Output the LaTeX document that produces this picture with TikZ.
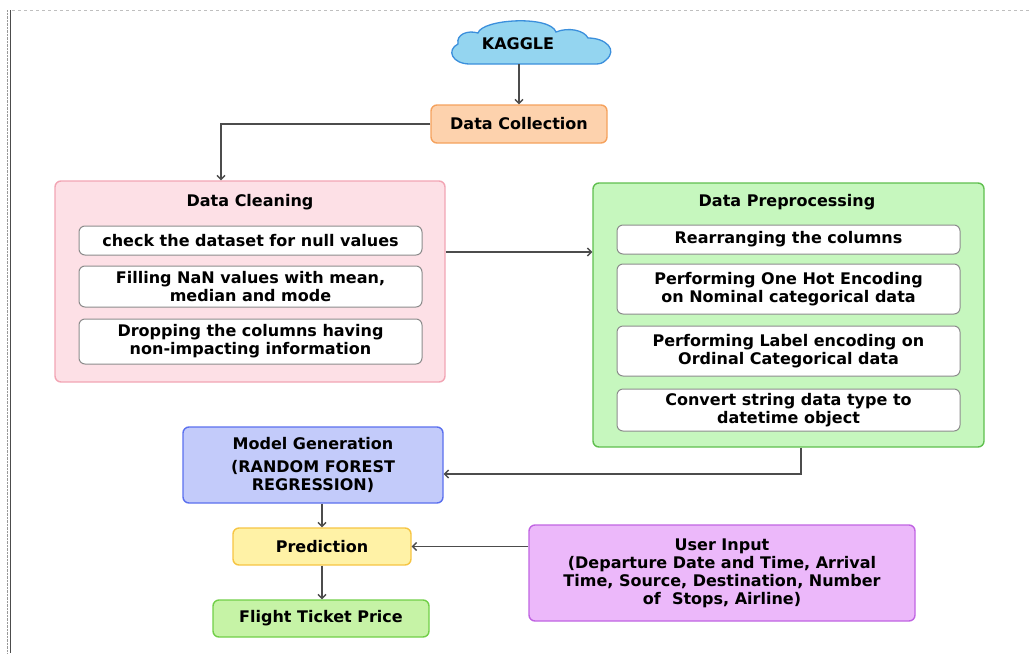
\documentclass[tikz,border=0pt]{standalone}
\usepackage{fontspec}
\setmainfont{DejaVu Sans}
\usetikzlibrary{arrows.meta,positioning}

\definecolor{cloudfill}{HTML}{94D5F0}
\definecolor{cloudline}{HTML}{3B8FDC}
\definecolor{collfill}{HTML}{FDD2AD}
\definecolor{collline}{HTML}{F5A25D}
\definecolor{cleanfill}{HTML}{FDE0E6}
\definecolor{cleanline}{HTML}{F2A5B4}
\definecolor{prepfill}{HTML}{C6F7BE}
\definecolor{prepline}{HTML}{5FBF4E}
\definecolor{modelfill}{HTML}{C3CBFA}
\definecolor{modelline}{HTML}{5B70EE}
\definecolor{predfill}{HTML}{FFF2A6}
\definecolor{predline}{HTML}{F6C543}
\definecolor{userfill}{HTML}{ECB8FA}
\definecolor{userline}{HTML}{C064E2}
\definecolor{pricefill}{HTML}{C6F3A6}
\definecolor{priceline}{HTML}{71CF48}

\begin{document}
\begin{tikzpicture}[x=1pt, y=-1pt,
      >={Straight Barb[length=4pt,width=8pt]},
      every node/.append style={align=center, font=\fontsize{16}{18}\selectfont\bfseries},
      box/.style={draw, rounded corners=6pt, line width=1.4pt, inner sep=2pt},
      item/.style={box, draw=black!45, fill=white, line width=1pt, minimum width=343pt},
      link/.style={->, line width=1.3pt, draw=black!70}]

  \useasboundingbox (0,0) rectangle (1032,653);
  % page frame of the screenshot
  \draw[black!25, dashed] (12,10) -- (1032,10);
  \draw[black!40, densely dotted] (7,10) -- (7,653);
  \draw[black!70, line width=1pt] (10,10) -- (10,653);

  % cloud
  \begin{scope}[shift={(518,44)}]
    \draw[draw=cloudline, fill=cloudfill, line width=1.3pt]
      (-48,20) .. controls (-66,20) and (-72,6) .. (-60,0)
      .. controls (-62,-10) and (-50,-14) .. (-40,-11)
      .. controls (-36,-25) and (32,-29) .. (38,-12)
      .. controls (50,-17) and (66,-14) .. (70,-6)
      .. controls (88,-6) and (100,6) .. (88,16)
      .. controls (85,19) and (82,20) .. (78,20) -- cycle;
  \end{scope}
  \node[inner sep=0pt, minimum height=40pt] (kaggle) at (518,44) {KAGGLE};
  \node[box, draw=collline, fill=collfill, minimum width=176pt,
        minimum height=38pt] (coll) at (519,124) {Data Collection};

  % data cleaning
  \node[box, draw=cleanline, fill=cleanfill, minimum width=390pt,
        minimum height=201pt] (clean) at (250,281.5) {};
  \node (cleantitle) at (250,202) {Data Cleaning};
  \node[item, minimum height=29pt] (c1) at (250.5,240.5) {check the dataset for null values};
  \node[item, minimum height=41pt] (c2) at (250.5,286.5) {Filling NaN values with mean,\\median and mode};
  \node[item, minimum height=45pt] (c3) at (250.5,341.5) {Dropping the columns having\\non-impacting information};

  % data preprocessing
  \node[box, draw=prepline, fill=prepfill, minimum width=391pt,
        minimum height=264pt] (prep) at (788.5,315) {};
  \node (preptitle) at (787,202) {Data Preprocessing};
  \node[item, minimum height=29pt] (p1) at (788.5,239.5) {Rearranging the columns};
  \node[item, minimum height=50pt] (p2) at (788.5,289) {Performing One Hot Encoding\\on Nominal categorical data};
  \node[item, minimum height=50pt] (p3) at (788.5,351) {Performing Label encoding on\\Ordinal Categorical data};
  \node[item, minimum height=42pt] (p4) at (788.5,410) {Convert string data type to\\datetime object};

  \node[box, draw=modelline, fill=modelfill, minimum width=260pt,
        minimum height=76pt] (model) at (313,465)
        {Model Generation\\[5pt](RANDOM FOREST\\REGRESSION)};
  \node[box, draw=predline, fill=predfill, minimum width=178pt,
        minimum height=37pt] (pred) at (322,546.5) {Prediction};
  \node[box, draw=userline, fill=userfill, minimum width=386pt,
        minimum height=96pt] (user) at (722,573)
        {User Input\\(Departure Date and Time, Arrival\\Time, Source, Destination, Number\\of\ \ Stops, Airline)};
  \node[box, draw=priceline, fill=pricefill, minimum width=216pt,
        minimum height=37pt] (price) at (321,618.5) {Flight Ticket Price};

  \coordinate (ymid) at (0,252);
  \draw[link] (kaggle.south -| coll.north) -- (coll.north);
  \draw[link] (coll.west) -| ([xshift=-29pt]clean.north);
  \draw[link] (clean.east |- ymid) -- (prep.west |- ymid);
  \draw[link] ([xshift=12.5pt]prep.south) |- ([yshift=-9pt]model.east);
  \draw[link] (pred.north |- model.south) -- (pred.north);
  \draw[link] (user.west |- pred.east) -- (pred.east);
  \draw[link] (pred.south) -- (pred.south |- price.north);
\end{tikzpicture}
\end{document}
